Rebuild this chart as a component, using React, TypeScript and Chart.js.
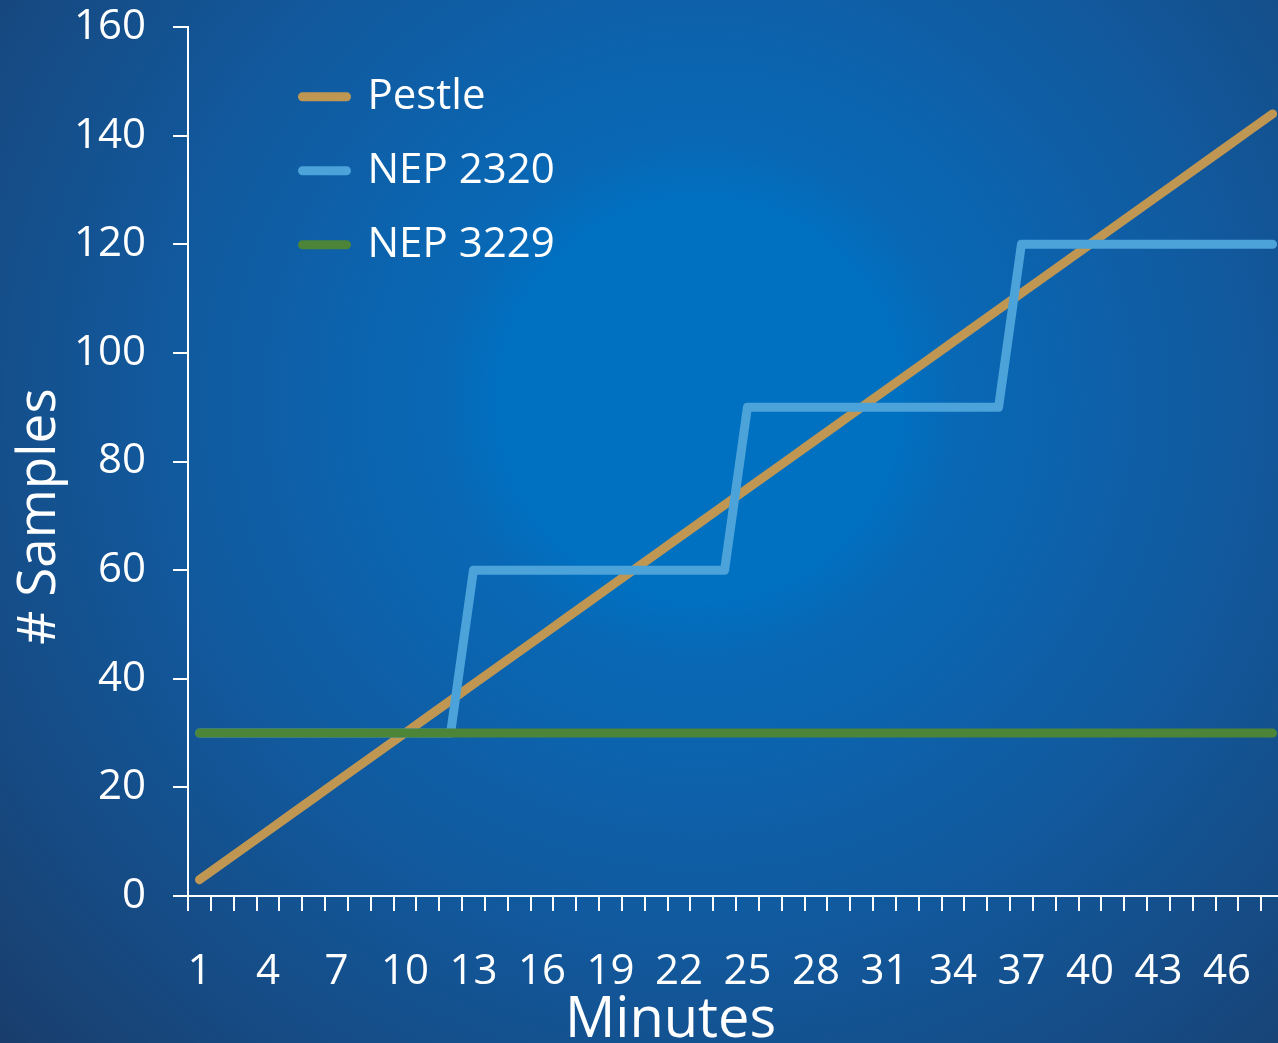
import React, { useEffect, useRef } from "react";
import { Chart, registerables } from "chart.js";

Chart.register(...registerables);

const minutes = [
  "1", "2", "3", "4", "5", "6", "7", "8", "9", "10", "11", "12",
  "13", "14", "15", "16", "17", "18", "19", "20", "21", "22", "23", "24",
  "25", "26", "27", "28", "29", "30", "31", "32", "33", "34", "35", "36",
  "37", "38", "39", "40", "41", "42", "43", "44", "45", "46", "47", "48",
];

const xTickLabels = ["1", "4", "7", "10", "13", "16", "19", "22", "25", "28", "31", "34", "37", "40", "43", "46"];

const pestle = [
  3, 6, 9, 12, 15, 18, 21, 24, 27, 30, 33, 36,
  39, 42, 45, 48, 51, 54, 57, 60, 63, 66, 69, 72,
  75, 78, 81, 84, 87, 90, 93, 96, 99, 102, 105, 108,
  111, 114, 117, 120, 123, 126, 129, 132, 135, 138, 141, 144,
];

const nep2320 = [
  30, 30, 30, 30, 30, 30, 30, 30, 30, 30, 30, 30,
  60, 60, 60, 60, 60, 60, 60, 60, 60, 60, 60, 60,
  90, 90, 90, 90, 90, 90, 90, 90, 90, 90, 90, 90,
  120, 120, 120, 120, 120, 120, 120, 120, 120, 120, 120, 120,
];

const nep3229 = [
  30, 30, 30, 30, 30, 30, 30, 30, 30, 30, 30, 30,
  30, 30, 30, 30, 30, 30, 30, 30, 30, 30, 30, 30,
  30, 30, 30, 30, 30, 30, 30, 30, 30, 30, 30, 30,
  30, 30, 30, 30, 30, 30, 30, 30, 30, 30, 30, 30,
];

const seriesNames = ["Pestle", "NEP 2320", "NEP 3229"];
const seriesColors = ["#c09752", "#4ba3da", "#4c8438"];

const xTitle = "Minutes";
const yTitle = "# Samples";

const FONT = "'Open Sans', 'Noto Sans', sans-serif";
const CANVAS_W = 1324;
const CANVAS_H = 1045;

export default function App() {
  const ref = useRef<HTMLCanvasElement | null>(null);

  useEffect(() => {
    if (!ref.current) return;
    Chart.defaults.font.family = FONT;
    const lineStyle = {
      borderWidth: 9,
      pointRadius: 0,
      pointHoverRadius: 0,
      borderCapStyle: "round" as const,
      borderJoinStyle: "round" as const,
      tension: 0,
      fill: false,
    };
    const chart = new Chart(ref.current, {
      type: "line",
      data: {
        labels: minutes,
        datasets: [
          { label: seriesNames[0], data: pestle, borderColor: seriesColors[0], backgroundColor: seriesColors[0], order: 3, ...lineStyle },
          { label: seriesNames[1], data: nep2320, borderColor: seriesColors[1], backgroundColor: seriesColors[1], order: 2, ...lineStyle },
          { label: seriesNames[2], data: nep3229, borderColor: seriesColors[2], backgroundColor: seriesColors[2], order: 1, ...lineStyle },
        ],
      },
      options: {
        animation: false,
        responsive: false,
        maintainAspectRatio: false,
        layout: { padding: { top: 27, right: 40, left: 0, bottom: 0 } },
        scales: {
          x: {
            type: "category",
            offset: true,
            grid: {
              display: true,
              offset: true,
              drawOnChartArea: false,
              drawTicks: true,
              tickLength: 15,
              color: "#ffffff",
              lineWidth: 2,
            },
            border: { display: true, color: "#ffffff", width: 2 },
            ticks: {
              autoSkip: false,
              maxRotation: 0,
              minRotation: 0,
              padding: 40,
              color: "#ffffff",
              font: { size: 42, lineHeight: 1, family: FONT },
              callback: (_v: any, i: number) => (xTickLabels.includes(minutes[i]) ? minutes[i] : ""),
            },
            title: {
              display: true,
              text: xTitle + " ".repeat(9),
              color: "#ffffff",
              font: { size: 56, lineHeight: 1, family: FONT },
              padding: { top: -40, bottom: -4 },
            },
          },
          y: {
            min: 0,
            max: 160,
            ticks: {
              stepSize: 20,
              padding: 27,
              color: "#ffffff",
              font: { size: 42, lineHeight: 0, family: FONT },
            },
            grid: {
              display: true,
              drawOnChartArea: false,
              drawTicks: true,
              tickLength: 15,
              color: "#ffffff",
              lineWidth: 2,
            },
            border: { display: true, color: "#ffffff", width: 2 },
            title: {
              display: true,
              text: yTitle + " ".repeat(8),
              color: "#ffffff",
              font: { size: 53, lineHeight: 1, family: FONT },
              padding: { top: 13, bottom: -19 },
            },
          },
        },
        plugins: {
          tooltip: { enabled: false },
          legend: {
            display: true,
            position: "chartArea",
            align: "start",
            labels: {
              boxWidth: 44,
              boxHeight: 0,
              padding: 32,
              color: "#ffffff",
              font: { size: 42, family: FONT },
              generateLabels: (c: any) =>
                c.data.datasets.map((ds: any, i: number) => ({
                  text: ds.label,
                  fillStyle: ds.borderColor,
                  strokeStyle: ds.borderColor,
                  lineWidth: 9,
                  lineCap: "round",
                  lineJoin: "round",
                  hidden: false,
                  datasetIndex: i,
                  fontColor: "#ffffff",
                })),
            },
          },
        },
      },
      plugins: [
        {
          id: "legendShift",
          afterLayout(c: any) {
            const lg = c.legend;
            if (!lg) return;
            lg.left = 270.5;
            lg.top = 43.7;
          },
        },
      ],
    } as any);
    return () => chart.destroy();
  }, []);

  return (
    <div
      style={{
        position: "fixed",
        left: 0,
        top: 0,
        width: 1278,
        height: 1043,
        overflow: "hidden",
        background:
          "radial-gradient(circle at 700px 400px, #0071c1 0px, #0070c0 200px, #0968b5 260px, #115a9f 520px, #164b84 760px, #1a3a66 1000px)",
      }}
    >
      <div style={{ position: "absolute", left: 0, top: 0, width: CANVAS_W, height: CANVAS_H }}>
        <canvas
          ref={ref}
          width={CANVAS_W}
          height={CANVAS_H}
          style={{ display: "block", width: CANVAS_W, height: CANVAS_H }}
        />
      </div>
    </div>
  );
}
